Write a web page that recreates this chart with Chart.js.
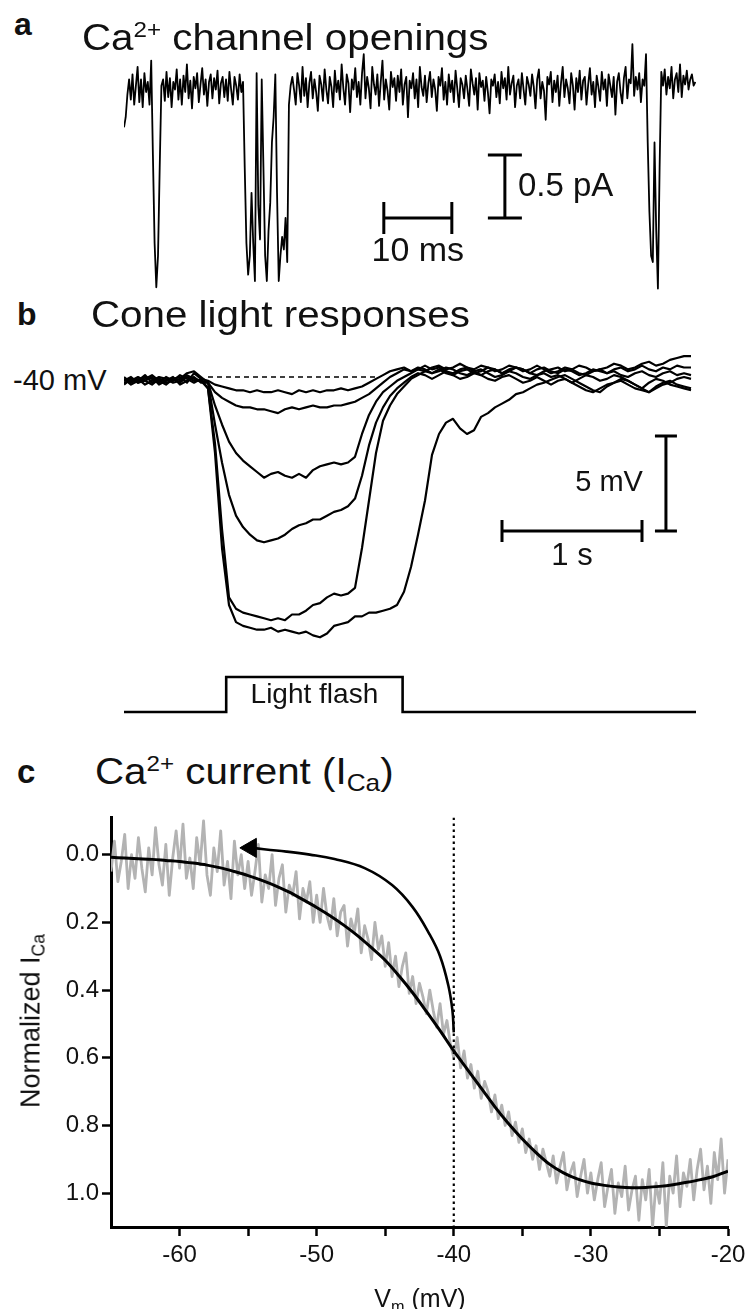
<!DOCTYPE html>
<html>
<head>
<meta charset="utf-8">
<script src="https://cdn.jsdelivr.net/npm/chart.js@4.4.0/dist/chart.umd.min.js"></script>
<style>
  body { margin: 0; background: #fff; }
  #fig { position: relative; width: 751px; height: 1309px; overflow: hidden; background: #fff;
         font-family: "Liberation Sans", Arial, Helvetica, sans-serif; color: #111; }
  #fig canvas { position: absolute; }
  .lbl { position: absolute; white-space: nowrap; line-height: 1; }
  .letter { font-weight: bold; font-size: 32px; }
  .title { font-size: 36px; transform: scaleX(1.12); transform-origin: 0 0; }
  sup { font-size: 0.6em; vertical-align: 0.58em; line-height: 0; }
  sub { font-size: 0.65em; vertical-align: -0.28em; line-height: 0; }
</style>
</head>
<body>
<div id="fig">
  <canvas id="chartA" width="572" height="260" style="left:124px;top:40px"></canvas>
  <canvas id="chartB" width="572" height="380" style="left:124px;top:340px"></canvas>
  <canvas id="chartC" width="751" height="509" style="left:0;top:800px"></canvas>

  <div class="lbl letter" style="left:14px;top:8px">a</div>
  <div class="lbl title" style="left:82px;top:20px">Ca<sup>2+</sup> channel openings</div>
  <div class="lbl letter" style="left:17px;top:298px">b</div>
  <div class="lbl title" style="left:91px;top:297px">Cone light responses</div>
  <div class="lbl" style="left:13px;top:366px;font-size:29px">-40 mV</div>
  <div class="lbl letter" style="left:17px;top:755px;font-size:33px">c</div>
  <div class="lbl title" style="left:95px;top:754px">Ca<sup>2+</sup> current (I<sub>Ca</sub>)</div>
  <div class="lbl" style="left:31px;top:1021px;font-size:27px;transform:translate(-50%,-50%) rotate(-90deg)">Normalized I<sub>Ca</sub></div>
  <div class="lbl" style="left:420px;top:1286px;font-size:25px;transform:translateX(-50%)">V<sub>m</sub> (mV)</div>
</div>

<script>
const FONT = '"Liberation Sans", Arial, Helvetica, sans-serif';

// ---- a: single Ca channel current (pA), one sample every 0.25 ms
const sampleStepA = 0.25;
const currentA = [
  -0.28, -0.2, -0.02, 0.1, -0.06, 0.14, -0.1, 0.05, 0.2, -0.08, 0.1, -0.12, 0.15, 0.0, 0.08, -0.1, 0.25, -0.5, -1.2, -1.55,
  -1.3, -0.6, 0.05, 0.1, -0.07, 0.16, -0.04, 0.11, -0.12, 0.08, 0.02, 0.18, -0.06, 0.1, -0.1, 0.13, 0.0, 0.22, -0.05, 0.09,
  -0.13, 0.12, 0.03, 0.15, -0.08, 0.06, 0.19, -0.02, 0.1, -0.11, 0.08, 0.14, -0.05, 0.11, 0.02, 0.17, -0.09, 0.07, 0.12, -0.04,
  0.1, -0.07, 0.16, 0.02, -0.1, 0.12, 0.05, -0.06, 0.14, 0.0, 0.08, -0.6, -1.2, -1.45, -1.3, -0.8, -1.2, -1.5, 0.15, -0.9,
  -1.17, 0.1, -0.6, -1.3, -1.5, -1.1, -0.88, -0.4, -0.2, 0.14, -0.8, -1.5, -1.3, -1.15, -1.25, -1.0, -1.35, -0.1, 0.05, 0.12,
  0.02, -0.1, 0.15, 0.05, -0.08, 0.2, -0.03, 0.11, -0.12, 0.07, 0.16, -0.05, 0.1, 0.0, -0.15, 0.13, 0.06, -0.07, 0.18, 0.02,
  -0.09, 0.12, 0.04, -0.12, 0.17, 0.0, 0.09, -0.06, 0.22, 0.03, -0.1, 0.14, 0.07, -0.16, 0.1, 0.02, 0.19, -0.04, 0.08, -0.1,
  0.15, 0.3, -0.05, 0.12, 0.03, -0.13, 0.2, 0.06, -0.02, 0.14, -0.11, 0.08, 0.25, -0.06, 0.1, 0.01, -0.14, 0.16, 0.04, 0.11,
  -0.07, 0.13, 0.0, 0.18, -0.1, 0.06, 0.12, -0.2, 0.09, 0.03, 0.15, -0.05, 0.1, -0.12, 0.2, 0.04, -0.03, 0.13, -0.08, 0.07,
  0.16, -0.04, 0.1, 0.02, -0.15, 0.12, 0.05, 0.19, -0.06, 0.08, -0.1, 0.14, 0.0, 0.09, -0.08, 0.17, 0.03, -0.12, 0.11, 0.06,
  -0.05, 0.13, 0.02, -0.11, 0.18, 0.07, -0.02, 0.11, -0.14, 0.15, 0.04, 0.09, -0.07, 0.12, 0.0, -0.17, 0.1, 0.05, 0.14, -0.04,
  0.08, -0.09, 0.16, 0.03, 0.11, -0.06, 0.2, -0.02, 0.07, 0.13, -0.12, 0.05, 0.1, -0.05, 0.15, 0.02, -0.1, 0.12, 0.06, -0.03,
  0.14, 0.04, -0.13, 0.1, 0.18, -0.05, 0.08, 0.01, -0.22, 0.12, 0.06, 0.16, -0.08, 0.09, 0.0, 0.13, -0.11, 0.07, 0.2, -0.04,
  0.1, 0.03, -0.09, 0.15, 0.05, -0.14, 0.11, 0.0, 0.17, -0.06, 0.09, 0.12, -0.1, 0.06, 0.19, -0.02, 0.08, -0.12, 0.13, 0.04,
  -0.07, 0.16, 0.02, 0.1, -0.11, 0.14, 0.05, -0.04, 0.12, -0.18, 0.08, 0.15, 0.0, -0.09, 0.11, 0.2, -0.05, 0.1, 0.07, 0.38,
  -0.03, 0.12, 0.02, 0.15, -0.08, 0.1, 0.05, 0.3, -0.4, -0.95, -1.3, -1.35, -0.4, -1.1, -1.56, -0.6, 0.16, 0.05, 0.18, -0.02,
  0.12, 0.03, 0.2, -0.05, 0.1, 0.15, 0.0, 0.22, -0.04, 0.13, 0.06, 0.17, 0.02, 0.1, 0.14, 0.05, 0.08
];

// ---- b: cone voltage (mV), one sample every 0.05 s, six flash strengths
const sampleStepB = 0.05;
const cone1 = [
  -40.2, -40.0, -40.3, -40.1, -39.9, -40.2, -40.4, -40.1, -40.0, -40.3, -39.8, -40.1,
  -40.2, -40.4, -40.5, -40.6, -40.7, -40.7, -40.8, -40.7, -40.8, -40.8, -40.7, -40.8, -40.9, -40.7, -40.8, -40.7, -40.8,
  -40.7, -40.7, -40.6, -40.7, -40.6, -40.5, -40.3, -40.1, -39.9, -39.7,
  -39.6, -39.5, -39.7, -39.6, -39.4, -39.6, -39.5, -39.7, -39.8, -39.6, -39.5, -39.7, -39.9, -39.7, -39.6, -39.8, -39.7,
  -39.5, -39.6, -39.8, -39.9, -39.7, -39.6, -39.5, -39.7, -39.6, -39.4, -39.5, -39.7, -39.6, -39.5, -39.3, -39.4, -39.6,
  -39.5, -39.3, -39.2, -39.4, -39.3, -39.1, -39.0, -38.9, -38.9
];
const cone2 = [
  -40.0, -40.3, -40.1, -40.4, -40.2, -40.0, -40.1, -40.3, -40.2, -39.9, -40.1, -40.2,
  -40.3, -40.8, -41.1, -41.3, -41.5, -41.6, -41.6, -41.7, -41.7, -41.8, -41.9, -41.7, -41.6, -41.7, -41.6, -41.5, -41.6,
  -41.6, -41.5, -41.5, -41.4, -41.3, -41.1, -40.9, -40.6, -40.3, -40.0,
  -39.8, -39.6, -39.7, -39.5, -39.6, -39.8, -39.7, -39.5, -39.6, -39.8, -39.9, -39.7, -39.6, -39.8, -40.0, -39.9, -39.7,
  -39.8, -40.0, -40.1, -39.9, -39.8, -40.0, -39.9, -40.1, -40.3, -40.1, -39.9, -40.0, -40.2, -40.1, -39.9, -40.0, -40.2,
  -40.4, -40.6, -40.3, -40.1, -40.2, -40.4, -40.5, -40.6, -40.7
];
const cone3 = [
  -40.4, -40.1, -40.2, -39.9, -40.3, -40.1, -40.2, -40.0, -40.4, -40.2, -40.0, -40.3,
  -40.3, -41.5, -42.5, -43.4, -44.0, -44.4, -44.7, -45.0, -45.3, -45.1, -45.0, -45.2, -45.3, -45.1, -45.3, -44.9, -44.7,
  -44.6, -44.5, -44.6, -44.5, -44.2, -43.0, -42.0, -41.3, -40.8, -40.5, -40.2,
  -40.0, -39.8, -39.6, -39.7, -39.5, -39.4, -39.6, -39.5, -39.3, -39.5, -39.6, -39.4, -39.5, -39.7, -39.6, -39.4, -39.5,
  -39.6, -39.8, -39.6, -39.5, -39.7, -39.8, -39.6, -39.7, -39.9, -39.8, -39.6, -39.7, -39.8, -39.6, -39.5, -39.7, -39.6,
  -39.4, -39.6, -39.7, -39.5, -39.6, -39.4, -39.5, -39.5
];
const cone4 = [
  -40.1, -40.4, -40.2, -40.0, -40.1, -40.3, -40.0, -40.2, -40.1, -39.8, -39.7, -40.0,
  -40.3, -42.5, -44.5, -46.2, -47.3, -47.9, -48.3, -48.6, -48.7, -48.6, -48.5, -48.3, -48.0, -47.8, -47.7, -47.5, -47.5,
  -47.3, -47.1, -47.0, -46.8, -46.4, -45.2, -43.6, -42.4, -41.6, -41.0, -40.6, -40.3,
  -40.0, -39.8, -39.9, -40.1, -39.9, -39.7, -39.9, -40.1, -40.0, -39.8, -39.9, -40.1, -40.2, -40.0, -39.9, -40.1, -40.3,
  -40.2, -40.0, -40.2, -40.4, -40.2, -40.1, -40.3, -40.5, -40.7, -40.8, -40.6, -40.4, -40.3, -40.2, -40.4, -40.6, -40.7,
  -40.8, -40.6, -40.4, -40.3, -40.1, -40.0, -40.1
];
const cone5 = [
  -40.3, -40.2, -40.0, -40.2, -40.4, -40.1, -40.3, -40.2, -39.9, -40.1, -40.3, -40.1,
  -40.6, -43.5, -48.0, -51.6, -52.2, -52.4, -52.5, -52.6, -52.7, -52.8, -52.7, -52.8, -52.5, -52.5, -52.3, -52.0, -51.9,
  -51.6, -51.4, -51.5, -51.4, -51.1, -49.0, -46.5, -44.0, -42.3, -41.5, -40.9, -40.5, -40.1,
  -39.9, -39.7, -39.8, -39.6, -39.8, -39.9, -39.7, -39.6, -39.8, -39.7, -39.5, -39.6, -39.8, -39.6, -39.5, -39.7, -39.6,
  -39.4, -39.6, -39.8, -39.7, -39.5, -39.6, -39.8, -39.9, -39.7, -39.6, -39.8, -39.7, -39.9, -40.0, -39.8, -39.7, -39.9,
  -40.0, -39.8, -39.7, -39.9, -39.8, -39.9
];
const cone6 = [
  -40.2, -40.1, -40.3, -40.2, -40.0, -40.4, -40.2, -40.1, -40.3, -40.0, -40.2, -40.2,
  -40.6, -44.0, -49.0, -52.0, -52.9, -53.1, -53.2, -53.3, -53.3, -53.2, -53.4, -53.3, -53.4, -53.5, -53.4, -53.6, -53.7,
  -53.5, -53.1, -53.0, -52.9, -52.6, -52.6, -52.4, -52.4, -52.3, -52.2, -52.0, -51.3, -50.0, -48.3, -46.5, -44.1, -43.0,
  -42.4, -42.2, -42.7, -43.0, -42.8, -42.1, -41.9, -41.6, -41.4, -41.2, -40.9, -40.8, -40.6, -40.4, -40.3, -40.15,
  -40.0, -39.9, -40.1, -40.3, -40.5, -40.7, -40.8, -40.5, -40.3, -40.1, -40.2, -40.4, -40.6, -40.8, -40.5, -40.3, -40.2,
  -40.4, -40.5, -40.6
];
const restLevel = -40;
const restDashTime = [0.6, 1.81];
const flashTime = [0, 0.73, 0.73, 1.99, 1.99, 4.09];
const flashOn = [0, 0, 1, 1, 0, 0];

// ---- c: normalized I_Ca vs voltage, raw ramp sampled every 0.25 mV from -65 mV
const voltStartC = -65;
const voltStepC = 0.25;
const icaRaw = [
  0.05, -0.04, 0.08, 0.02, -0.06, 0.1, 0.0, 0.07, -0.05, 0.04, 0.11, -0.02, 0.06, -0.08, 0.03, 0.09, -0.03, 0.12, 0.01, -0.07,
  0.04, -0.09, 0.07, 0.01, 0.1, -0.05, 0.03, -0.1, 0.06, 0.12, -0.02, 0.05, -0.07, 0.09, 0.02, 0.13, -0.04, 0.06, 0.0, 0.1,
  0.02, 0.12, 0.05, -0.03, 0.14, 0.06, 0.1, 0.0, 0.15, 0.07, 0.03, 0.17, 0.09, 0.12, 0.05, 0.19, 0.1, 0.14, 0.08, 0.2,
  0.12, 0.2, 0.1, 0.18, 0.22, 0.13, 0.24, 0.17, 0.15, 0.27, 0.19, 0.23, 0.16, 0.29, 0.21, 0.25, 0.31, 0.2, 0.28, 0.24,
  0.33, 0.26, 0.36, 0.3, 0.39, 0.33, 0.29, 0.41, 0.36, 0.44, 0.38, 0.42, 0.47, 0.4, 0.46, 0.51, 0.44, 0.53, 0.49, 0.56,
  0.6, 0.54, 0.63, 0.58, 0.66, 0.62, 0.69, 0.64, 0.72, 0.67, 0.7, 0.76, 0.71, 0.78, 0.74, 0.8, 0.76, 0.83, 0.79, 0.85,
  0.81, 0.88, 0.84, 0.9, 0.86, 0.93, 0.87, 0.91, 0.95, 0.89, 0.97, 0.92, 0.88, 0.99, 0.94, 0.91, 1.01, 0.95, 0.9, 1.0,
  0.94, 1.02, 0.96, 0.91, 1.04, 0.98, 0.93, 1.06, 0.97, 1.01, 0.92, 1.05, 0.99, 0.95, 1.08, 0.96, 1.02, 0.93, 1.1, 0.97,
  1.03, 0.91, 1.1, 0.95, 1.0, 0.89, 1.04, 0.94, 0.98, 0.9, 1.02, 0.93, 0.87, 0.99, 0.92, 1.03, 0.88, 0.96, 0.84, 1.0,
  0.9
];
const fitVolt = [-65, -64, -63, -62, -61, -60, -59, -58, -57, -56, -55, -54, -53, -52, -51, -50, -49, -48, -47, -46,
  -45, -44, -43, -42, -41, -40, -39, -38, -37, -36, -35, -34, -33, -32, -31, -30, -29, -28, -27, -26, -25, -24, -23,
  -22, -21, -20];
const icaFit = [0.008, 0.010, 0.012, 0.014, 0.017, 0.020, 0.025, 0.031, 0.039, 0.050, 0.062, 0.076, 0.092, 0.111,
  0.133, 0.156, 0.181, 0.209, 0.240, 0.275, 0.312, 0.358, 0.408, 0.463, 0.520, 0.580, 0.635, 0.690, 0.745, 0.795,
  0.840, 0.880, 0.915, 0.940, 0.958, 0.970, 0.977, 0.982, 0.984, 0.983, 0.980, 0.975, 0.968, 0.960, 0.950, 0.935];
const arrowVolt = [-40.0, -40.1, -40.4, -41.0, -41.8, -43.0, -44.5, -46.5, -48.7, -50.5, -52.2, -54.8];
const arrowIca = [0.525, 0.46, 0.386, 0.3, 0.233, 0.155, 0.09, 0.04, 0.013, 0.0, -0.009, -0.02];
const markerVolt = -40;
const xTicksC = [-60, -55, -50, -45, -40, -35, -30, -25, -20];
const yTicksC = [0, 0.2, 0.4, 0.6, 0.8, 1.0];

function grid(start, step, n) {
  return Array.from({ length: n }, (_, i) => +(start + i * step).toFixed(3));
}
function pts(xs, ys) {
  return ys.map((y, i) => ({ x: xs[i], y: y }));
}
function baseOptions(scales, padding) {
  return {
    responsive: false,
    animation: false,
    events: [],
    layout: { padding: padding || 0 },
    plugins: { legend: { display: false }, tooltip: { enabled: false } },
    elements: { point: { radius: 0 }, line: { tension: 0, borderJoinStyle: 'round' } },
    scales: scales
  };
}

// scale bars + their labels, placed in data units
function scaleBarPlugin(bars) {
  return {
    id: 'scaleBars',
    afterDatasetsDraw(chart) {
      const ctx = chart.ctx;
      ctx.save();
      bars.forEach(b => {
        const xs = chart.scales.x, ys = chart.scales[b.axis || 'y'];
        const x0 = xs.getPixelForValue(b.x0), x1 = xs.getPixelForValue(b.x1);
        const y0 = ys.getPixelForValue(b.y0), y1 = ys.getPixelForValue(b.y1);
        if (b.cap) {
          ctx.strokeStyle = '#000';
          ctx.lineWidth = 3;
          ctx.beginPath();
          ctx.moveTo(x0, y0); ctx.lineTo(x1, y1);
          if (b.y0 === b.y1) {
            ctx.moveTo(x0, y0 - b.cap); ctx.lineTo(x0, y0 + b.cap);
            ctx.moveTo(x1, y1 - b.cap); ctx.lineTo(x1, y1 + b.cap);
          } else {
            ctx.moveTo(x0 - b.cap, y0); ctx.lineTo(x0 + b.cap, y0);
            ctx.moveTo(x1 - b.cap, y1); ctx.lineTo(x1 + b.cap, y1);
          }
          ctx.stroke();
        }
        ctx.fillStyle = '#111';
        ctx.font = b.size + 'px ' + FONT;
        ctx.textAlign = b.align;
        ctx.textBaseline = 'middle';
        ctx.fillText(b.label, (x0 + x1) / 2 + b.dx, (y0 + y1) / 2 + b.dy);
      });
      ctx.restore();
    }
  };
}

// ---------- panel a
const timeA = grid(0, sampleStepA, currentA.length);
new Chart(document.getElementById('chartA'), {
  type: 'line',
  data: { datasets: [{ data: pts(timeA, currentA), borderColor: '#000', borderWidth: 1.8 }] },
  options: baseOptions({
    x: { type: 'linear', display: false, min: 0, max: 84.1 },
    y: { type: 'linear', display: false, min: -1.651, max: 0.413 }
  }),
  plugins: [scaleBarPlugin([
    { x0: 38.2, x1: 48.2, y0: -1.0, y1: -1.0, cap: 16, label: '10 ms', size: 34, align: 'center', dx: 0, dy: 34 },
    { x0: 56.0, x1: 56.0, y0: -0.5, y1: -1.0, cap: 17, label: '0.5 pA', size: 33, align: 'left', dx: 13, dy: 0 }
  ])]
});

// ---------- panel b
const timeB = grid(0, sampleStepB, cone1.length);
const coneTraces = [cone1, cone2, cone3, cone4, cone5, cone6];
const datasetsB = coneTraces.map(tr => ({ data: pts(timeB, tr), borderColor: '#000', borderWidth: 2.2 }));
datasetsB.push({ data: pts(restDashTime, [restLevel, restLevel]), borderColor: '#000', borderWidth: 1.3, borderDash: [5, 4] });
datasetsB.push({ data: pts(flashTime, flashOn), yAxisID: 'y2', borderColor: '#000', borderWidth: 2.6, borderJoinStyle: 'miter' });
new Chart(document.getElementById('chartB'), {
  type: 'line',
  data: { datasets: datasetsB },
  options: baseOptions({
    x: { type: 'linear', display: false, min: 0, max: 4.0857 },
    y: { type: 'linear', display: false, min: -58.053, max: -38.053 },
    y2: { type: 'linear', display: false, min: -0.229, max: 10.629 }
  }),
  plugins: [scaleBarPlugin([
    { x0: 2.7, x1: 3.7, y0: -48.1, y1: -48.1, cap: 11, label: '1 s', size: 31, align: 'center', dx: 0, dy: 26 },
    { x0: 3.871, x1: 3.871, y0: -43.1, y1: -48.1, cap: 11, label: '5 mV', size: 29, align: 'right', dx: -23, dy: 0 },
    { x0: 0.73, x1: 1.99, y0: 0.5, y1: 0.5, axis: 'y2', label: 'Light flash', size: 28, align: 'center', dx: 0, dy: 1 }
  ])]
});

// ---------- panel c
const voltC = grid(voltStartC, voltStepC, icaRaw.length);
const axisStyle = {
  grid: { drawOnChartArea: false, drawTicks: true, tickLength: 9, tickWidth: 2.5, tickColor: '#000', color: '#000' },
  border: { display: true, color: '#000', width: 3 }
};
new Chart(document.getElementById('chartC'), {
  type: 'line',
  data: {
    datasets: [
      { data: pts(arrowVolt, arrowIca), borderColor: '#000', borderWidth: 2.6, tension: 0.4,
        pointStyle: 'triangle', pointRotation: -90, backgroundColor: '#000', borderJoinStyle: 'miter',
        pointRadius: ctx => ctx.dataIndex === arrowVolt.length - 1 ? 11 : 0, pointBorderWidth: 1 },
      { data: pts(fitVolt, icaFit), borderColor: '#000', borderWidth: 3, cubicInterpolationMode: 'monotone' },
      { data: pts([markerVolt, markerVolt], [-0.11, 1.1]), borderColor: '#000', borderWidth: 2.2, borderDash: [2.5, 3.5] },
      { data: pts(voltC, icaRaw), borderColor: '#b3b3b3', borderWidth: 2.8 }
    ]
  },
  options: baseOptions({
    x: Object.assign({
      type: 'linear', min: -65, max: -20,
      afterBuildTicks: s => { s.ticks = xTicksC.map(v => ({ value: v })); },
      ticks: { autoSkip: false, maxRotation: 0, padding: 5, color: '#111', font: { family: FONT, size: 24 },
               callback: v => (v % 10 === 0 ? String(v) : '') },
      afterFit: s => { s.height = 82; }
    }, axisStyle),
    y: Object.assign({
      type: 'linear', reverse: true, min: -0.11, max: 1.1,
      afterBuildTicks: s => { s.ticks = yTicksC.map(v => ({ value: v })); },
      ticks: { padding: 3, color: '#111', font: { family: FONT, size: 24 }, callback: v => v.toFixed(1) },
      afterFit: s => { s.width = 111; }
    }, axisStyle)
  }, { left: 0, right: 23, top: 16, bottom: 0 })
});
</script>
</body>
</html>
